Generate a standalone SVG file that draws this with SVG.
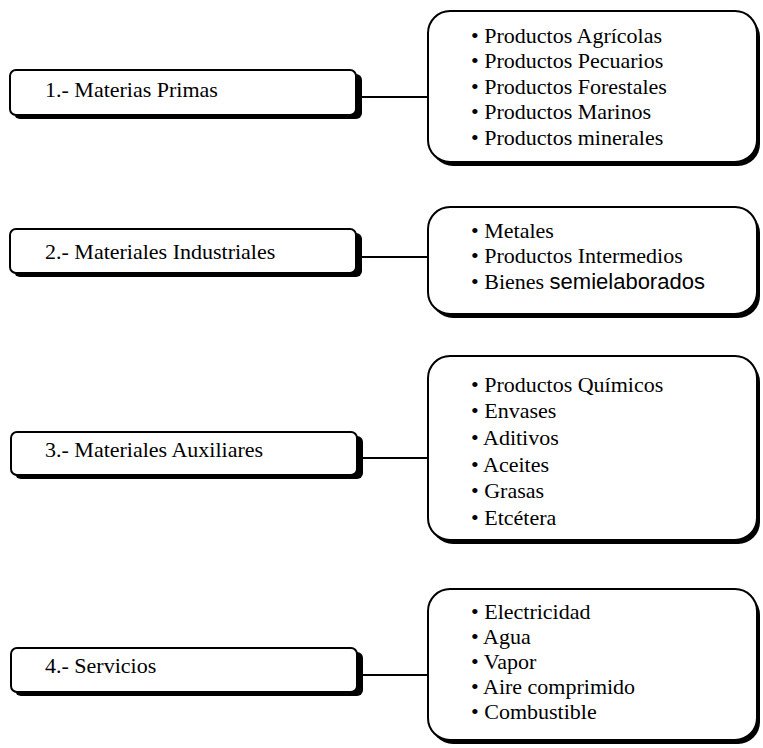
<svg xmlns="http://www.w3.org/2000/svg" width="763" height="748" viewBox="0 0 763 748">
<style>
.shadow{fill:#000}
.box{fill:#fff;stroke:#000;stroke-width:2}
.t{font-family:"Liberation Serif","Times New Roman",serif;font-size:22px;fill:#000}
.s{font-family:"Liberation Sans",Arial,sans-serif}
.conn line{stroke:#000;stroke-width:2}
</style>
<rect width="763" height="748" fill="#fff"/>
<g class="conn">
<line x1="358" y1="97" x2="428" y2="97"/>
<line x1="358" y1="257" x2="428" y2="257"/>
<line x1="358" y1="458" x2="428" y2="458"/>
<line x1="358" y1="675" x2="428" y2="675"/>
</g>
<g id="n1">
<rect class="shadow" x="14" y="74" width="348" height="45" rx="6"/>
<rect class="box" x="10" y="70" width="346" height="45" rx="6"/>
<text class="t" x="45" y="97">1.- Materias Primas</text>
</g>
<g id="n2">
<rect class="shadow" x="14" y="233" width="348" height="44" rx="6"/>
<rect class="box" x="10" y="229" width="346" height="44" rx="6"/>
<text class="t" x="45" y="259">2.- Materiales Industriales</text>
</g>
<g id="n3">
<rect class="shadow" x="15" y="436" width="348" height="43" rx="6"/>
<rect class="box" x="11" y="432" width="346" height="43" rx="6"/>
<text class="t" x="45" y="457">3.- Materiales Auxiliares</text>
</g>
<g id="n4">
<rect class="shadow" x="15" y="652" width="348" height="44" rx="6"/>
<rect class="box" x="11" y="648" width="346" height="44" rx="6"/>
<text class="t" x="45" y="673">4.- Servicios</text>
</g>
<g id="r1">
<rect class="shadow" x="431" y="15" width="329" height="151" rx="22"/>
<rect class="box" x="428" y="11" width="329" height="151" rx="22"/>
<text class="t" x="471" y="43">• Productos Agrícolas</text>
<text class="t" x="471" y="68">• Productos Pecuarios</text>
<text class="t" x="471" y="94">• Productos Forestales</text>
<text class="t" x="471" y="119">• Productos Marinos</text>
<text class="t" x="471" y="145">• Productos minerales</text>
</g>
<g id="r2">
<rect class="shadow" x="431" y="211" width="329" height="107" rx="22"/>
<rect class="box" x="428" y="207" width="329" height="107" rx="22"/>
<text class="t" x="471" y="238">• Metales</text>
<text class="t" x="471" y="263">• Productos Intermedios</text>
<text class="t" x="471" y="289">• Bienes <tspan class="s">semielaborados</tspan></text>
</g>
<g id="r3">
<rect class="shadow" x="431" y="360" width="329" height="184" rx="22"/>
<rect class="box" x="428" y="356" width="329" height="184" rx="22"/>
<text class="t" x="471" y="392">• Productos Químicos</text>
<text class="t" x="471" y="418">• Envases</text>
<text class="t" x="471" y="445">• Aditivos</text>
<text class="t" x="471" y="472">• Aceites</text>
<text class="t" x="471" y="498">• Grasas</text>
<text class="t" x="471" y="525">• Etcétera</text>
</g>
<g id="r4">
<rect class="shadow" x="431" y="593" width="329" height="151" rx="22"/>
<rect class="box" x="428" y="589" width="329" height="151" rx="22"/>
<text class="t" x="471" y="619">• Electricidad</text>
<text class="t" x="471" y="644">• Agua</text>
<text class="t" x="471" y="669">• Vapor</text>
<text class="t" x="471" y="694">• Aire comprimido</text>
<text class="t" x="471" y="719">• Combustible</text>
</g>
</svg>
